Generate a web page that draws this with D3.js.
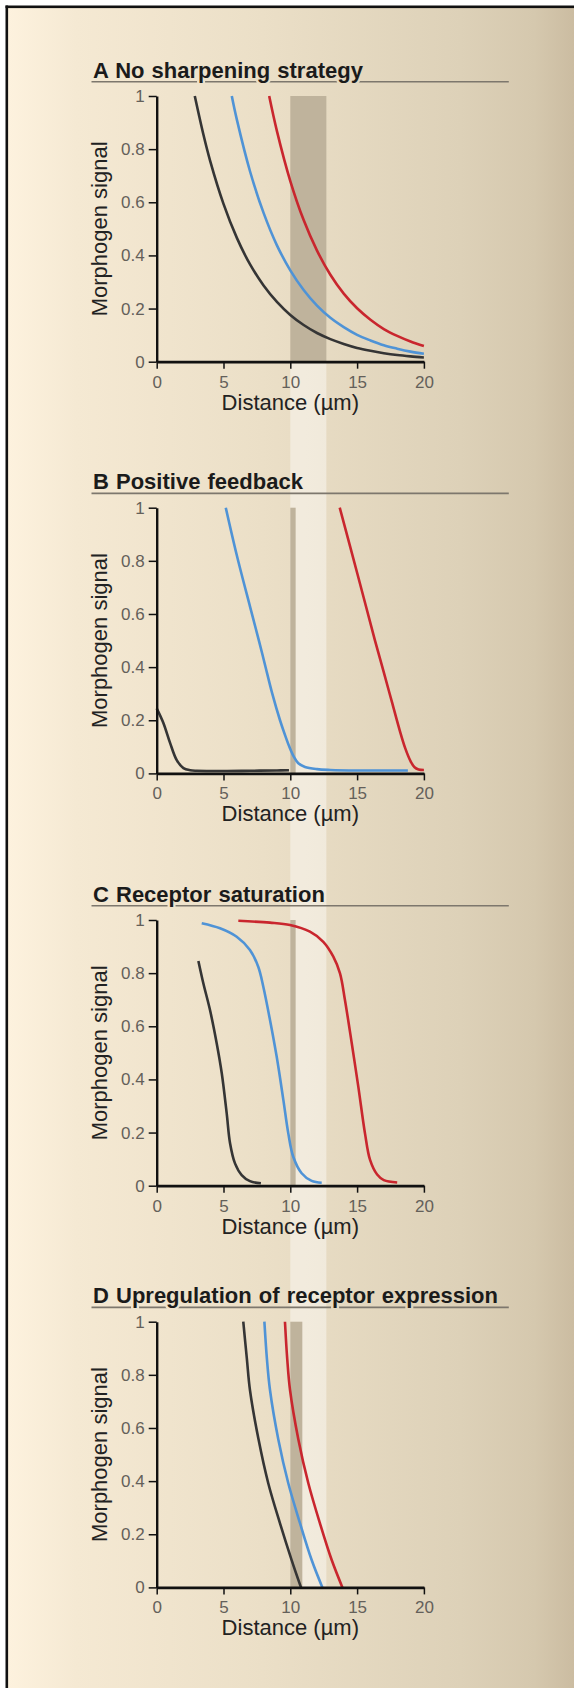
<!doctype html>
<html lang="en">
  <head>
    <meta charset="utf-8">
    <title>Morphogen gradient sharpening</title>
    <style>
      body { margin: 0; background: #fff; }
      svg { display: block; }
    </style>
  </head>
  <body>
    <script src="https://cdn.jsdelivr.net/npm/d3@7/dist/d3.min.js"></script>
    <script>

    // ticks and labels
    var distanceTicks = [0, 5, 10, 15, 20];
    var signalTicks = [0, 0.2, 0.4, 0.6, 0.8, 1];
    var signalTickLabels = ["0", "0.2", "0.4", "0.6", "0.8", "1"];

    var panelTitles = [
      "A No sharpening strategy",
      "B Positive feedback",
      "C Receptor saturation",
      "D Upregulation of receptor expression"
    ];

    // grey band (target region) per panel, in µm
    var bandFrom = [10, 10, 10, 10];
    var bandTo   = [12.7, 10.4, 10.4, 10.9];
    // pale column that runs through panels B-D
    var columnRange = [10, 12.7];

    // [distance, signal]
    var aBlack = [[2.85,1],[3.5,0.854],[4,0.756],[5,0.594],[6,0.466],[7,0.365],[8,0.287],[9,0.225],[10,0.176],[11,0.138],[12,0.108],[13,0.085],[14,0.067],[15,0.052],[16,0.041],[17,0.032],[18,0.025],[19,0.02],[20,0.016]];
    var aBlue  = [[5.62,1],[6,0.911],[7,0.714],[8,0.56],[9,0.438],[10,0.344],[11,0.27],[12,0.211],[13,0.165],[14,0.13],[15,0.101],[16,0.08],[17,0.062],[18,0.049],[19,0.038],[20,0.03]];
    var aRed   = [[8.42,1],[9,0.868],[10,0.68],[11,0.533],[12,0.418],[13,0.327],[14,0.256],[15,0.201],[16,0.158],[17,0.123],[18,0.097],[19,0.076],[20,0.059]];

    var bBlack = [[0,0.245],[0.5,0.19],[1,0.115],[1.5,0.05],[2,0.02],[2.5,0.012],[3,0.01],[5,0.009],[7,0.01],[9,0.011],[9.9,0.012]];
    var bBlue  = [[5.17,1],[6,0.82],[7,0.625],[7.65,0.5],[8.1,0.41],[8.65,0.3],[9.23,0.2],[9.6,0.145],[9.93,0.1],[10.25,0.064],[10.6,0.038],[11.1,0.024],[12,0.016],[13,0.013],[15,0.011],[18.8,0.011]];
    var bRed   = [[13.7,1],[14.5,0.85],[15.5,0.66],[16.34,0.5],[17,0.38],[17.6,0.27],[18.2,0.16],[18.6,0.095],[19,0.046],[19.3,0.023],[19.6,0.015],[20,0.013]];

    var cBlack = [[3.12,0.846],[3.49,0.762],[3.99,0.661],[4.49,0.536],[4.87,0.423],[5.24,0.272],[5.49,0.16],[5.86,0.084],[6.36,0.04],[6.98,0.017],[7.8,0.009]];
    var cBlue  = [[3.37,0.988],[4.74,0.969],[5.99,0.937],[6.98,0.887],[7.6,0.824],[7.98,0.749],[8.48,0.624],[8.98,0.486],[9.48,0.323],[9.85,0.197],[10.22,0.109],[10.85,0.047],[11.6,0.018],[12.35,0.011]];
    var cRed   = [[6.11,0.997],[8.48,0.99],[9.98,0.981],[11.47,0.956],[12.47,0.918],[13.22,0.862],[13.72,0.799],[14.09,0.699],[14.6,0.536],[15.09,0.373],[15.59,0.197],[15.97,0.097],[16.5,0.042],[17,0.021],[18,0.012]];

    var dBlack = [[6.48,1],[6.75,0.86],[6.98,0.743],[7.61,0.56],[8.35,0.392],[9.23,0.241],[10.1,0.103],[10.8,0]];
    var dBlue  = [[8.06,1],[8.25,0.86],[8.48,0.743],[9.1,0.558],[9.85,0.392],[10.73,0.241],[11.6,0.103],[12.4,0]];
    var dRed   = [[9.6,1],[9.77,0.86],[9.98,0.743],[10.6,0.558],[11.35,0.392],[12.22,0.241],[13.1,0.103],[13.9,0]];

    var panelSeries = [
      [aBlack, aBlue, aRed],
      [bBlack, bBlue, bRed],
      [cBlack, cBlue, cRed],
      [dBlack, dBlue, dRed]
    ];
    var seriesColors = ["#353535", "#4f93d6", "#c9262e"];


    var W = 574, H = 1688;
    var panelTop = [96, 507.7, 920, 1321.7],
        plotH = 265.7;

    var svg = d3.select("body")
      .append("svg")
      .attr("width", W)
      .attr("height", H);

    var defs = svg.append("defs");

    var grad = defs.append("linearGradient")
      .attr("id", "bg")
      .attr("x1", 0).attr("x2", 1).attr("y1", 0).attr("y2", 0);
    [[0, "#fdf2de"], [0.12, "#f5e9d3"], [0.45, "#ebdfc7"], [0.8, "#ddd1b8"], [0.93, "#d5c8ae"], [1, "#cbbca1"]]
      .forEach(function(s){
        grad.append("stop").attr("offset", s[0]).attr("stop-color", s[1]);
      });

    svg.append("rect")
      .attr("x", 8).attr("y", 8)
      .attr("width", W - 8).attr("height", H - 8)
      .attr("fill", "url(#bg)");

    // frame, left and top only
    svg.append("rect").attr("x", 5.5).attr("y", 5.5).attr("width", 2.6).attr("height", H).attr("fill", "#111");
    svg.append("rect").attr("x", 5.5).attr("y", 5.5).attr("width", W).attr("height", 2.6).attr("fill", "#111");

    var x = d3.scaleLinear()
      .domain([0, 20])
      .range([156.7, 423.9]);

    // pale column from bottom of A down to bottom of D
    svg.append("rect")
      .attr("x", x(columnRange[0]))
      .attr("y", panelTop[0] + plotH)
      .attr("width", x(columnRange[1]) - x(columnRange[0]))
      .attr("height", panelTop[3] - panelTop[0])
      .attr("fill", "#fff")
      .attr("opacity", 0.42);

    var font = "'Liberation Sans', Arial, Helvetica, sans-serif";

    panelSeries.forEach(function(series, i){

      var top = panelTop[i];
      var y = d3.scaleLinear()
        .domain([0, 1])
        .range([top + plotH, top]);

      var g = svg.append("g");

      // target band
      g.append("rect")
        .attr("x", x(bandFrom[i]))
        .attr("y", y(1))
        .attr("width", x(bandTo[i]) - x(bandFrom[i]))
        .attr("height", y(0) - y(1))
        .attr("fill", "#bfb39c");

      var line = d3.line()
        .x(function(d){ return x(d[0]); })
        .y(function(d){ return y(d[1]); })
        .curve(d3.curveCatmullRom.alpha(0.5));

      g.selectAll(".curve")
        .data(series)
        .enter()
        .append("path")
        .attr("class", "curve")
        .attr("d", line)
        .attr("fill", "none")
        .attr("stroke", function(d, k){ return seriesColors[k]; })
        .attr("stroke-width", 2.6);

      var yAxis = g.append("g")
        .attr("transform", "translate(" + x(0) + ",0)")
        .call(d3.axisLeft(y)
          .tickValues(signalTicks)
          .tickFormat(function(d, k){ return signalTickLabels[k]; })
          .tickSize(8)
          .tickSizeOuter(0)
          .tickPadding(4));

      var xAxis = g.append("g")
        .attr("transform", "translate(0," + y(0) + ")")
        .call(d3.axisBottom(x)
          .tickValues(distanceTicks)
          .tickSize(7)
          .tickSizeOuter(0)
          .tickPadding(7));

      [yAxis, xAxis].forEach(function(a){
        a.selectAll("text")
          .attr("fill", "#64605a")
          .style("font-family", font)
          .style("font-size", "17px");
        a.selectAll(".tick line")
          .attr("stroke", "#111")
          .attr("stroke-width", 1.5);
      });
      yAxis.select(".domain").attr("stroke", "#111").attr("stroke-width", 2.4);
      xAxis.select(".domain").attr("stroke", "#111").attr("stroke-width", 2.8);

      g.append("text")
        .attr("x", x(10))
        .attr("y", y(0) + 48)
        .attr("text-anchor", "middle")
        .attr("fill", "#222")
        .style("font-family", font)
        .style("font-size", "22px")
        .text("Distance (µm)");

      g.append("text")
        .attr("transform", "translate(107.3," + (top + plotH / 2) + ") rotate(-90)")
        .attr("text-anchor", "middle")
        .attr("fill", "#222")
        .style("font-family", font)
        .style("font-size", "22px")
        .text("Morphogen signal");

      // title with underline broken by descenders
      var titleY = top - 18.5,
          ruleY = top - 14.3;

      var mask = defs.append("mask")
        .attr("id", "tm" + i)
        .attr("maskUnits", "userSpaceOnUse")
        .attr("x", 0).attr("y", 0).attr("width", W).attr("height", H);
      mask.append("rect")
        .attr("x", 0).attr("y", 0).attr("width", W).attr("height", H)
        .attr("fill", "#fff");
      mask.append("text")
        .attr("x", 93)
        .attr("y", titleY)
        .attr("fill", "#000")
        .attr("stroke", "#000")
        .attr("stroke-width", 5)
        .style("font-family", font)
        .style("font-weight", "700")
        .style("font-size", "22px")
        .style("word-spacing", "1px")
        .text(panelTitles[i]);

      g.append("line")
        .attr("x1", 91.5).attr("x2", 508.8)
        .attr("y1", ruleY).attr("y2", ruleY)
        .attr("stroke", "#7d776d")
        .attr("stroke-width", 1.6)
        .attr("mask", "url(#tm" + i + ")");

      g.append("text")
        .attr("x", 93)
        .attr("y", titleY)
        .attr("fill", "#1b1b1b")
        .style("font-family", font)
        .style("font-weight", "700")
        .style("font-size", "22px")
        .style("word-spacing", "1px")
        .text(panelTitles[i]);
    });

    </script>
  </body>
</html>
